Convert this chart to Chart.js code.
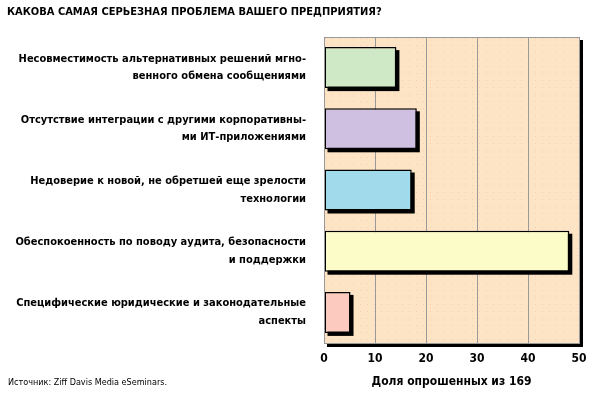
<!DOCTYPE html>
<html>
<head>
<meta charset="utf-8">
<script src="https://cdn.jsdelivr.net/npm/chart.js@4"></script>
<style>
  html, body { margin: 0; padding: 0; background: #fff; }
  #wrap { width: 592px; height: 393px; }
</style>
</head>
<body>
<div id="wrap"><canvas id="graph_problem" width="592" height="393"></canvas></div>
<script>
// категории (в две строки, как на картинке)
const categories = [
    ['Несовместимость альтернативных решений мгно-', 'венного обмена сообщениями'],
    ['Отсутствие интеграции с другими корпоративны-', 'ми ИТ-приложениями'],
    ['Недоверие к новой, не обретшей еще зрелости', 'технологии'],
    ['Обеспокоенность по поводу аудита, безопасности', 'и поддержки'],
    ['Специфические юридические и законодательные', 'аспекты']
];
// доля опрошенных, %
const values = [14.2, 18.2, 17.2, 48.1, 5.2];
const barColors = ['#CFE9C7', '#CFBFE0', '#A1DAEB', '#FCFCC9', '#FCCABF'];
const xTicks = [0, 10, 20, 30, 40, 50];

const narrow = "'Liberation Sans Narrow', 'DejaVu Sans Condensed', 'Arial Narrow', sans-serif";

// фон области графика с точками
function dotPattern(ctx) {
    const c = document.createElement('canvas');
    c.width = 7; c.height = 7;
    const p = c.getContext('2d');
    p.fillStyle = '#FCE4C4';
    p.fillRect(0, 0, 7, 7);
    p.fillStyle = '#F7CDBA';
    p.fillRect(3, 3, 1, 1);
    return ctx.createPattern(c, 'repeat');
}

const frame = {
    id: 'frame',
    beforeDraw(chart) {
        const {ctx, chartArea: a} = chart;
        ctx.save();
        // тень рамки
        ctx.fillStyle = '#000';
        ctx.fillRect(a.right + 1, a.top + 3, 3, a.bottom - a.top + 1);
        ctx.fillRect(a.left + 3, a.bottom + 1, a.right - a.left + 1, 3);
        ctx.fillStyle = dotPattern(ctx);
        ctx.fillRect(a.left, a.top, a.right - a.left, a.bottom - a.top);
        ctx.restore();
    },
    afterDraw(chart) {
        const {ctx, chartArea: a} = chart;
        ctx.save();
        ctx.strokeStyle = '#999';
        ctx.lineWidth = 1;
        ctx.strokeRect(a.left + 0.5, a.top + 0.5, a.right - a.left, a.bottom - a.top);
        // источник
        ctx.fillStyle = '#000';
        ctx.font = "9px " + narrow;
        ctx.textBaseline = 'middle';
        ctx.textAlign = 'left';
        ctx.fillText('Источник: Ziff Davis Media eSeminars.', 8, 383);
        ctx.restore();
    },
    beforeDatasetsDraw(chart) {
        // тени столбиков
        const {ctx} = chart;
        const meta = chart.getDatasetMeta(0);
        ctx.save();
        ctx.fillStyle = '#000';
        meta.data.forEach(el => {
            const p = el.getProps(['x', 'y', 'base', 'height'], true);
            ctx.fillRect(p.base + 3, p.y - p.height / 2 + 3, p.x - p.base, p.height);
        });
        ctx.restore();
    }
};

const ctx = document.getElementById('graph_problem');
const chart = new Chart(ctx, {
    type: 'bar',
    data: {
        labels: categories,
        datasets: [{
            data: values,
            backgroundColor: barColors,
            borderColor: '#000',
            borderWidth: 1.5,
            borderSkipped: false,
            categoryPercentage: 1,
            barPercentage: 0.67
        }]
    },
    options: {
        indexAxis: 'y',
        responsive: false,
        animation: false,
        layout: { padding: { left: 7, right: 13, top: 0, bottom: 0 } },
        plugins: {
            legend: { display: false },
            tooltip: { enabled: false },
            title: {
                display: true,
                text: 'КАКОВА САМАЯ СЕРЬЕЗНАЯ ПРОБЛЕМА ВАШЕГО ПРЕДПРИЯТИЯ?',
                align: 'start',
                color: '#000',
                font: { family: narrow, size: 11, weight: 'bold' },
                padding: { top: 6, bottom: 17.8 }
            }
        },
        scales: {
            x: {
                min: 0,
                max: 50,
                afterBuildTicks(scale) { scale.ticks = xTicks.map(v => ({value: v})); },
                afterFit(scale) {
                    scale.height = 50;
                    scale.paddingLeft = 0;
                    scale.paddingRight = 0;
                },
                grid: { color: '#999', drawTicks: false, lineWidth: 1 },
                border: { display: false },
                ticks: {
                    padding: 9,
                    color: '#000',
                    font: { family: narrow, size: 12, weight: 'bold' }
                },
                title: {
                    display: true,
                    text: 'Доля опрошенных из 169',
                    color: '#000',
                    font: { family: narrow, size: 12, weight: 'bold' },
                    padding: { bottom: 4 }
                }
            },
            y: {
                afterFit(scale) { scale.width = 317; },
                grid: { display: false },
                border: { display: false },
                ticks: {
                    padding: 10,
                    color: '#000',
                    font: { family: narrow, size: 11, weight: 'bold', lineHeight: 1.6 }
                }
            }
        }
    },
    plugins: [frame]
});
</script>
</body>
</html>
